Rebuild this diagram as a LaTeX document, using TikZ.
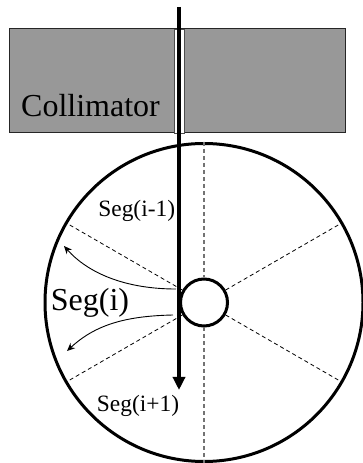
\documentclass[tikz,border=0pt]{standalone}
\usepackage{fontspec}
\setmainfont{Liberation Serif}
\usepackage{xcolor}
\usetikzlibrary{shapes,arrows.meta,positioning,calc}
\definecolor{blockgray}{gray}{0.595}
\newcommand{\bigfont}{\fontsize{32}{34}\selectfont}
\newcommand{\smallfont}{\fontsize{23.4}{25}\selectfont}

\begin{document}
\begin{tikzpicture}[
  x=1pt, y=1pt,
  block/.style={rectangle, draw=black!85, line width=1pt, fill=blockgray, minimum width=336pt, minimum height=104pt, inner sep=0pt},
  slit/.style={rectangle, draw=black!70, line width=0.8pt, fill=white, minimum width=10pt, minimum height=104pt, inner sep=0pt},
  wheel/.style={circle, draw, line width=3pt, minimum size=318pt, inner sep=0pt},
  hub/.style={circle, draw, line width=3pt, fill=white, minimum size=47pt, inner sep=0pt},
  greyspoke/.style={dash pattern=on 4pt off 3pt, draw=black!55, line width=1.2pt},
  spoke/.style={dash pattern=on 4pt off 3pt, line width=0.8pt},
  beam/.style={-{Triangle[length=13pt,width=12pt]}, line width=3.8pt},
  drift/.style={-{Stealth[length=8pt,width=7pt]}, line width=0.9pt},
  biglabel/.style={font=\bigfont, anchor=base, inner sep=0pt},
  smalllabel/.style={font=\smallfont, anchor=base, inner sep=0pt}
]
\useasboundingbox (0,0) rectangle (362,463);
\node[block] (collimator) at (177,382) {};
\node[slit] (gap) at (179,382) {};
\node[wheel] (disc) at (204,160.5) {};
\node[hub] (centre) at (disc.center) {};
% spokes
\draw[greyspoke] (disc.north) -- (centre.north);
\draw[greyspoke] (centre.south) -- (disc.south);
\foreach \ang in {30,150,210,330} {
  \draw[spoke] (centre.\ang) -- (disc.\ang);
}
% beam
\coordinate (beamtop) at (179,456);
\coordinate (beamtip) at (179,73);
\draw[beam] (beamtop) -- (beamtip);
% fluorescence paths
\coordinate (upstart) at (176,174);
\coordinate (upend) at (64,217);
\coordinate (lowstart) at (173,148);
\coordinate (lowend) at (67,112);
\draw[drift] (upstart) .. controls (125,174) and (88,190) .. (upend);
\draw[drift] (lowstart) .. controls (125,147) and (95,138) .. (lowend);
\node[biglabel] (collabel) at (90.5,346) {Collimator};
\node[biglabel] (segi) at (90,152) {Seg(i)};
\node[smalllabel] (segprev) at (136.7,246) {Seg(i-1)};
\node[smalllabel] (segnext) at (138,51) {Seg(i+1)};
\end{tikzpicture}
\end{document}
